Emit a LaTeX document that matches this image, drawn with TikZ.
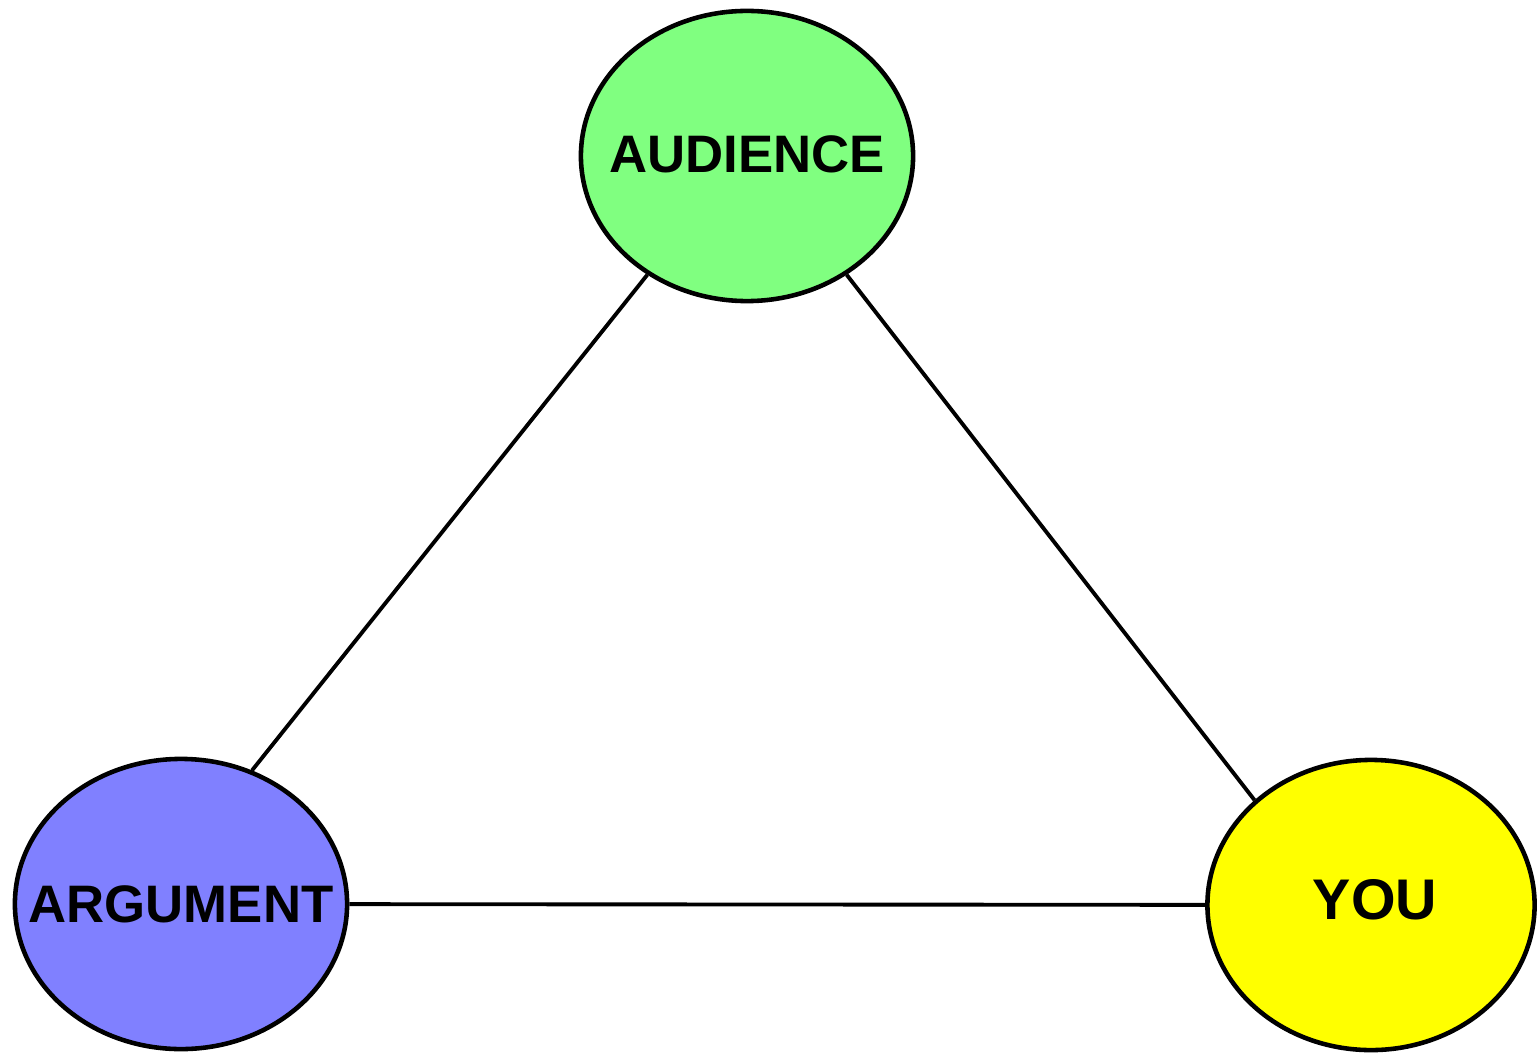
\documentclass[tikz,border=0pt]{standalone}
\usepackage{fontspec}
\setmainfont{Liberation Sans}
\usetikzlibrary{shapes.geometric}

\definecolor{audgreen}{HTML}{80FF80}
\definecolor{argblue}{HTML}{8080FF}
\definecolor{youyellow}{HTML}{FFFF00}

\begin{document}
\begin{tikzpicture}[x=0.01cm, y=-0.01cm, line width=1.1pt,
		blob/.style={ellipse, draw, line width=1.3pt, inner sep=0pt, minimum width=3.32cm, minimum height=2.9cm, font=\bfseries\fontsize{15}{18}\selectfont}]
		\useasboundingbox (0, 0) rectangle (1537, 1055);
		\node[blob, fill=audgreen] (audience) at (747, 156) {\makebox[0pt]{\raisebox{0.04cm}{AUDIENCE}}};
		\node[blob, fill=argblue] (argument) at (181, 904) {\makebox[0pt]{\raisebox{-0.04cm}{ARGUMENT}}};
		\node[blob, fill=youyellow, minimum width=3.27cm, font=\bfseries\fontsize{16.3}{19}\selectfont] (you) at (1371, 905) {\makebox[0pt]{\hspace{0.08cm}\raisebox{0.11cm}{YOU}}};
		\draw (audience.230) -- (argument.62);
		\draw (audience.310) -- (you.138);
		\draw (argument) -- (you);
	\end{tikzpicture}
\end{document}
